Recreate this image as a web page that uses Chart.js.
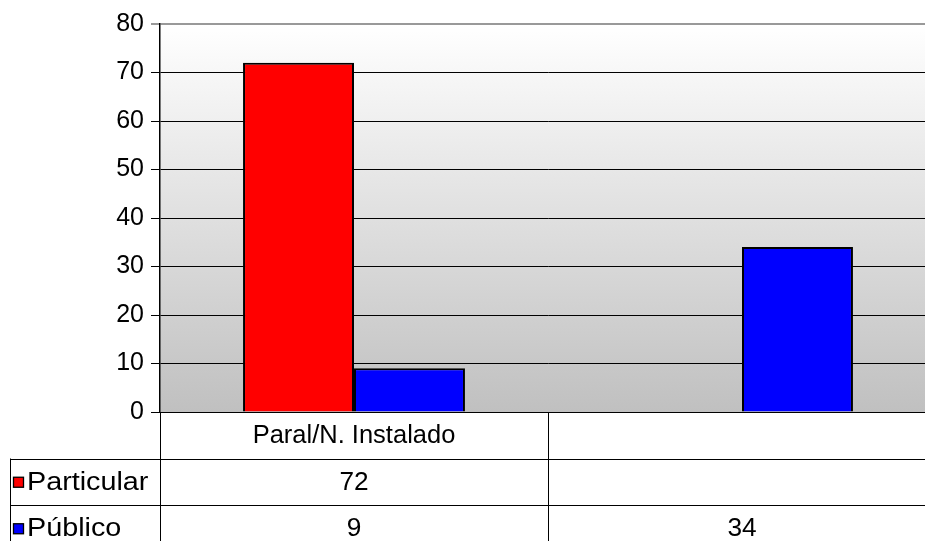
<!DOCTYPE html>
<html><head><meta charset="utf-8">
<script src="https://cdn.jsdelivr.net/npm/chart.js@4/dist/chart.umd.min.js"></script>
<style>html,body{margin:0;padding:0;background:#fff;overflow:hidden;width:925px;height:541px}#wrap{position:absolute;left:0;top:0;width:940px;height:541px}</style>
</head><body><div id="wrap"><canvas id="c" width="940" height="541"></canvas></div>
<script>
const categories = ["Paral/N. Instalado", ""];
const particular = [72, null];
const publico = [9, 34];
const seriesNames = ["Particular", "Público"];
const seriesColors = ["#ff0000", "#0000ff"];
const yTicks = [0, 10, 20, 30, 40, 50, 60, 70, 80];

const FONT = "'Liberation Sans', Arial, sans-serif";

const bgPlugin = {
  id: 'bg',
  beforeDraw(chart) {
    const {ctx, chartArea: a} = chart;
    const g = ctx.createLinearGradient(0, a.top, 0, a.bottom);
    g.addColorStop(0, '#ffffff');
    g.addColorStop(1, '#c0c0c0');
    ctx.save();
    ctx.fillStyle = g;
    ctx.fillRect(a.left, a.top, a.right - a.left, a.bottom - a.top);
    ctx.restore();
  }
};

function stretchText(ctx, text, x, y, align, sx) {
  ctx.save();
  ctx.translate(x, y);
  ctx.scale(sx, 1);
  ctx.textAlign = align;
  ctx.fillText(text, 0, 0);
  ctx.restore();
}

const tablePlugin = {
  id: 'table',
  afterDraw(chart) {
    const {ctx, chartArea: a} = chart;
    const x = chart.scales.x;
    const n = categories.length;
    const cw = (a.right - a.left) / n;
    const rowH = 46.5;
    const top = a.bottom;
    ctx.save();
    ctx.strokeStyle = '#000';
    ctx.lineWidth = 1;
    ctx.font = '25px ' + FONT;
    ctx.fillStyle = '#000';
    ctx.textBaseline = 'middle';
    ctx.beginPath();
    ctx.moveTo(a.left + 0.5, top); ctx.lineTo(a.left + 0.5, 541);
    for (let i = 1; i <= n; i++) {
      const xx = Math.round(a.left + cw * i) + 0.5;
      ctx.moveTo(xx, top); ctx.lineTo(xx, 541);
    }
    ctx.moveTo(10.5, top + rowH); ctx.lineTo(10.5, 541);
    for (let r = 1; r <= 2; r++) {
      const yy = Math.round(top + rowH * r) + 0.5;
      ctx.moveTo(10, yy); ctx.lineTo(a.right, yy);
    }
    ctx.stroke();
    categories.forEach((c, i) => {
      stretchText(ctx, c, x.getPixelForValue(i), top + rowH / 2 + 1, 'center', 1.02);
    });
    const data = [particular, publico];
    data.forEach((arr, r) => {
      const cy = top + rowH * (r + 1) + rowH / 2 + 1;
      arr.forEach((v, i) => {
        if (v !== null) stretchText(ctx, String(v), x.getPixelForValue(i), cy, 'center', 1.05);
      });
      ctx.fillStyle = seriesColors[r];
      ctx.fillRect(13.5, cy - 5.5, 10, 10);
      ctx.lineWidth = 1.3;
      ctx.strokeRect(13.5, cy - 5.5, 10, 10);
      ctx.fillStyle = '#000';
      stretchText(ctx, seriesNames[r], 27, cy, 'left', 1.15);
    });
    ctx.restore();
  }
};

new Chart(document.getElementById('c'), {
  type: 'bar',
  data: {
    labels: categories,
    datasets: [
      {label: seriesNames[0], data: particular, backgroundColor: seriesColors[0], borderColor: '#000', borderWidth: 2},
      {label: seriesNames[1], data: publico, backgroundColor: seriesColors[1], borderColor: '#000', borderWidth: 2}
    ]
  },
  options: {
    responsive: false,
    animation: false,
    devicePixelRatio: 1,
    layout: {padding: {top: 24, bottom: 129, left: 0, right: 4}},
    plugins: {legend: {display: false}, tooltip: {enabled: false}},
    datasets: {bar: {categoryPercentage: 0.572, barPercentage: 1}},
    scales: {
      x: {display: false},
      y: {
        min: 0, max: 80,
        afterFit(s) { s.width = 160; },
        afterBuildTicks(s) { s.ticks = yTicks.map(v => ({value: v})); },
        ticks: {font: {family: FONT, size: 25}, color: '#000', padding: 7},
        grid: {
          color: (c) => c.tick && c.tick.value === 80 ? '#999999' : '#000000',
          lineWidth: (c) => c.tick && c.tick.value === 80 ? 2 : 1,
          tickLength: 9,
          drawTicks: true
        },
        border: {display: true, color: '#000', width: 1.5}
      }
    }
  },
  plugins: [bgPlugin, tablePlugin]
});
</script></body></html>
